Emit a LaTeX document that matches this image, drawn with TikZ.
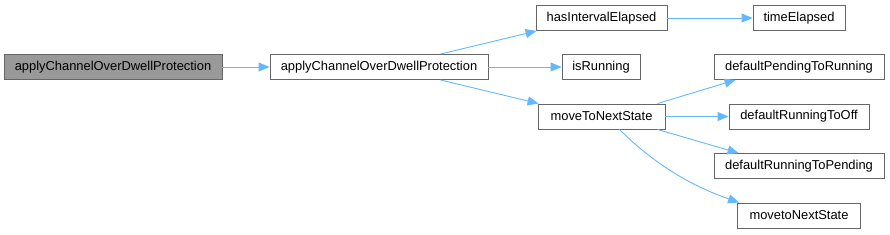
\documentclass[tikz,border=0pt]{standalone}
\usepackage{fontspec}
\setmainfont{Liberation Sans}
\usetikzlibrary{arrows.meta}
\definecolor{edgeblue}{RGB}{99,184,255}
\definecolor{boxline}{RGB}{102,102,102}
\definecolor{hlfill}{RGB}{153,153,153}
\begin{document}
\begin{tikzpicture}[x=1pt,y=-1pt,
  fn/.style={draw=boxline, line width=0.9pt, fill=white, minimum height=25pt, inner sep=0pt,
    font=\fontsize{12.9}{15}\selectfont, text=black},
  hl/.style={fn, fill=hlfill},
  call/.style={draw=edgeblue, line width=0.9pt, -{Triangle[length=11pt,width=9pt]}}]
\useasboundingbox (0,0) rectangle (890,234);
\node[hl, minimum width=218pt] (A) at (113,67) {applyChannelOverDwellProtection};
\node[fn, minimum width=218pt] (B) at (379,67) {applyChannelOverDwellProtection};
\node[fn, minimum width=131pt] (hIE) at (601.5,18) {hasIntervalElapsed};
\node[fn, minimum width=92pt] (tE) at (799,18) {timeElapsed};
\node[fn, minimum width=78pt] (iR) at (601,67) {isRunning};
\node[fn, minimum width=170pt] (dPTR) at (799,67) {defaultPendingToRunning};
\node[fn, minimum width=127pt] (mTNS) at (601.5,116.5) {moveToNextState};
\node[fn, minimum width=140pt] (dRTO) at (799,116.5) {defaultRunningToOff};
\node[fn, minimum width=170pt] (dRTP) at (799,166) {defaultRunningToPending};
\node[fn, minimum width=123pt] (mtNS) at (799,215.5) {movetoNextState};

\draw[call] (A) -- (B);
\draw[call] ([xshift=-48pt]B.north east) -- ([xshift=1pt]hIE.south west);
\draw[call] (B) -- (iR);
\draw[call] ([xshift=-48pt]B.south east) -- ([xshift=1pt]mTNS.north west);
\draw[call] (hIE) -- (tE);
\draw[call] ([xshift=-8pt]mTNS.north east) -- ([xshift=22pt]dPTR.south west);
\draw[call] (mTNS) -- (dRTO);
\draw[call] ([xshift=-8pt]mTNS.south east) -- ([xshift=25pt]dRTP.north west);
\draw[call] ([xshift=18pt]mTNS.south) .. controls +(40,40) and +(-40,-14) .. ([xshift=2pt]mtNS.north west);
\end{tikzpicture}
\end{document}
